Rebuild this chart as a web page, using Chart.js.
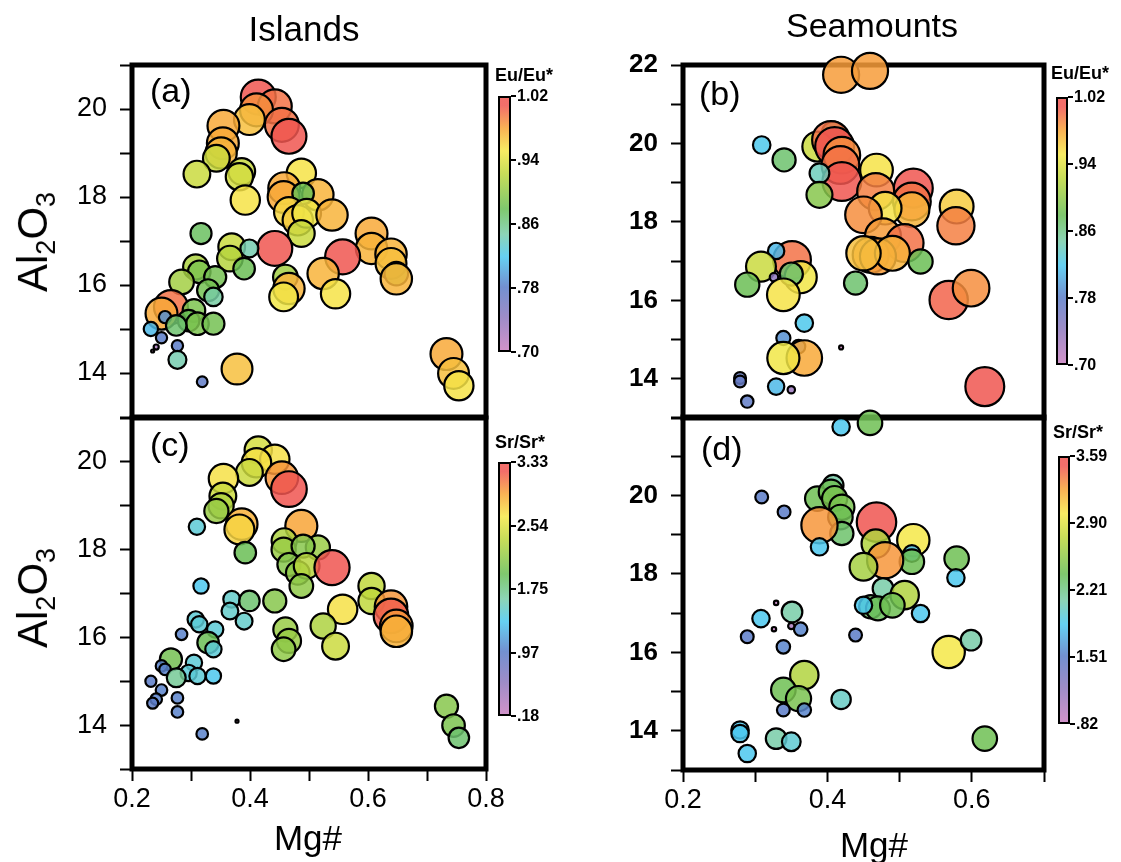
<!DOCTYPE html>
<html>
<head>
<meta charset="utf-8">
<script src="https://cdn.jsdelivr.net/npm/chart.js@4.4.1/dist/chart.umd.min.js"></script>
<style>
  body { margin: 0; width: 1121px; height: 862px; position: relative; background: #fff; overflow: hidden;
         font-family: "Liberation Sans", Arial, sans-serif; color: #000; }
  canvas { position: absolute; left: 0; top: 0; }
  .txt { position: absolute; white-space: nowrap; line-height: 1; }
  .bar { position: absolute; border: 2px solid #000; box-sizing: border-box; }
  .dash { position: absolute; width: 5px; height: 2px; background: #000; }
  .cbl { position: absolute; font-weight: bold; font-size: 16px; line-height: 1; }
</style>
</head>
<body>
<canvas id="pa" width="1121" height="862"></canvas>
<canvas id="pc" width="1121" height="862"></canvas>
<canvas id="pb" width="1121" height="862"></canvas>
<canvas id="pd" width="1121" height="862"></canvas>

<script>
// ---- data ----
// Islands (panels a and c share the sample positions)
const islandMg = [0.414, 0.442, 0.411, 0.399, 0.454, 0.466, 0.355, 0.354, 0.351, 0.343,
                  0.310, 0.386, 0.382, 0.392, 0.487, 0.458, 0.457, 0.515, 0.490, 0.466,
                  0.481, 0.496, 0.487, 0.539, 0.606, 0.606, 0.639, 0.639, 0.648, 0.648,
                  0.442, 0.557, 0.524, 0.545, 0.460, 0.466, 0.457, 0.317, 0.369, 0.399,
                  0.366, 0.390, 0.308, 0.314, 0.341, 0.284, 0.329, 0.338, 0.266, 0.250,
                  0.305, 0.296, 0.311, 0.338, 0.256, 0.275, 0.232, 0.250, 0.241, 0.235,
                  0.277, 0.277, 0.319, 0.378, 0.733, 0.745, 0.754];
const islandAl = [20.27, 20.06, 19.98, 19.76, 19.64, 19.38, 19.62, 19.22, 19.00, 18.88,
                  18.52, 18.58, 18.46, 17.93, 18.54, 18.20, 18.00, 18.05, 18.08, 17.66,
                  17.47, 17.63, 17.17, 17.59, 17.17, 16.83, 16.70, 16.49, 16.26, 16.14,
                  16.83, 16.64, 16.26, 15.80, 16.18, 15.92, 15.73, 17.17, 16.87, 16.83,
                  16.60, 16.37, 16.41, 16.30, 16.18, 16.07, 15.88, 15.73, 15.50, 15.35,
                  15.42, 15.19, 15.12, 15.12, 15.27, 15.08, 15.00, 14.80, 14.59, 14.50,
                  14.62, 14.30, 13.80, 14.09, 14.43, 13.99, 13.71];
const islandEu = [1.01, 1.00, 0.99, 0.97, 1.00, 1.01, 0.98, 0.98, 0.975, 0.93,
                  0.93, 0.93, 0.935, 0.955, 0.955, 0.98, 0.98, 0.975, 0.88, 0.96,
                  0.965, 0.95, 0.93, 0.975, 0.98, 0.975, 0.975, 0.97, 0.90, 0.975,
                  1.01, 1.01, 0.975, 0.955, 0.91, 0.975, 0.95, 0.875, 0.93, 0.845,
                  0.92, 0.88, 0.915, 0.89, 0.885, 0.91, 0.885, 0.85, 1.00, 0.98,
                  0.89, 0.88, 0.89, 0.885, 0.79, 0.87, 0.81, 0.78, 0.72, 0.70,
                  0.78, 0.845, 0.775, 0.97, 0.98, 0.97, 0.955];
const islandSr = [2.5, 2.7, 2.7, 2.45, 3.0, 3.3, 2.7, 2.45, 2.3, 2.2,
                  1.45, 2.9, 2.75, 1.95, 2.95, 2.3, 2.2, 2.2, 2.1, 2.1,
                  2.15, 2.35, 2.15, 3.25, 2.4, 2.4, 3.0, 3.2, 3.0, 2.9,
                  2.1, 2.7, 2.3, 2.45, 2.2, 2.2, 2.15, 1.35, 1.5, 1.85,
                  1.5, 1.5, 1.45, 1.45, 1.45, 1.0, 1.95, 1.45, 2.0, 1.0,
                  1.45, 1.45, 1.45, 1.35, 1.0, 1.7, 0.95, 1.0, 1.0, 0.95,
                  1.0, 1.0, 1.0, 0.15, 2.1, 2.05, 1.85];

// Seamounts (panels b and d share the sample positions)
const seamountMg = [0.419, 0.459, 0.309, 0.340, 0.408, 0.386, 0.405, 0.410, 0.420, 0.418,
                    0.420, 0.389, 0.389, 0.468, 0.467, 0.519, 0.517, 0.517, 0.480, 0.450,
                    0.579, 0.578, 0.477, 0.507, 0.460, 0.470, 0.490, 0.450, 0.529, 0.439,
                    0.351, 0.329, 0.308, 0.289, 0.363, 0.350, 0.326, 0.339, 0.368, 0.339,
                    0.360, 0.368, 0.339, 0.419, 0.279, 0.279, 0.329, 0.350, 0.289, 0.618,
                    0.568, 0.599];
const seamountAl = [21.75, 21.85, 19.96, 19.58, 20.26, 19.92, 20.09, 19.92, 19.70, 19.45,
                    19.03, 19.24, 18.69, 19.32, 18.77, 18.86, 18.52, 18.31, 18.35, 18.18,
                    18.39, 17.90, 17.63, 17.46, 17.16, 17.12, 17.20, 17.20, 16.99, 16.44,
                    17.03, 17.26, 16.86, 16.40, 16.59, 16.67, 16.59, 16.14, 15.42, 15.04,
                    14.82, 14.53, 14.53, 14.80, 14.02, 13.93, 13.80, 13.72, 13.42, 13.80,
                    16.01, 16.31];
const seamountEu = [0.985, 0.985, 0.82, 0.87, 0.87, 0.93, 1.00, 1.01, 0.99, 1.00,
                    1.01, 0.84, 0.895, 0.955, 0.995, 1.01, 1.00, 0.975, 0.955, 0.99,
                    0.965, 0.995, 0.985, 1.00, 0.985, 0.985, 0.975, 0.97, 0.88, 0.87,
                    1.00, 0.81, 0.93, 0.88, 0.95, 0.87, 0.74, 0.955, 0.82, 0.79,
                    0.785, 0.98, 0.95, 0.69, 0.77, 0.77, 0.81, 0.73, 0.775, 1.01,
                    1.005, 0.99];
const seamountSr = [1.85, 2.4, 1.5, 1.5, 2.1, 2.4, 2.4, 2.45, 2.45, 2.4,
                    2.3, 3.3, 1.85, 3.55, 2.7, 3.0, 1.8, 2.4, 3.3, 2.65,
                    2.4, 1.85, 2.1, 2.7, 2.3, 2.35, 2.4, 1.85, 1.85, 1.5,
                    2.1, 0.85, 1.85, 1.5, 1.55, 1.0, 0.85, 1.55, 2.7, 2.4,
                    2.45, 1.55, 1.5, 2.0, 1.85, 1.85, 2.1, 1.95, 1.85, 2.4,
                    3.0, 2.1];

// colour bar ranges and tick labels
const euRange = [0.70, 1.02];
const srIslandRange = [0.18, 3.33];
const srSeamountRange = [0.82, 3.59];
const euTicks = ['1.02', '.94', '.86', '.78', '.70'];
const srIslandTicks = ['3.33', '2.54', '1.75', '.97', '.18'];
const srSeamountTicks = ['3.59', '2.90', '2.21', '1.51', '.82'];

// ---- colour scale ----
const cmap = [
  [0.00, [200, 128, 192]],
  [0.13, [140, 120, 190]],
  [0.25, [90, 125, 200]],
  [0.37, [75, 200, 240]],
  [0.46, [120, 205, 170]],
  [0.56, [105, 190, 85]],
  [0.70, [190, 215, 60]],
  [0.79, [246, 232, 72]],
  [0.88, [248, 165, 55]],
  [0.97, [240, 85, 80]],
  [1.00, [240, 85, 80]]
];

function colour(t, alpha) {
  t = Math.max(0, Math.min(1, t));
  for (let i = 1; i < cmap.length; i++) {
    if (t <= cmap[i][0]) {
      const [t0, c0] = cmap[i - 1];
      const [t1, c1] = cmap[i];
      const f = (t - t0) / (t1 - t0);
      const c = c0.map((v, k) => Math.round(v + (c1[k] - v) * f));
      return `rgba(${c[0]},${c[1]},${c[2]},${alpha})`;
    }
  }
  return 'rgba(240,85,80,' + alpha + ')';
}

// draws the thick box round the plot area
const framePlugin = {
  id: 'frame',
  beforeDatasetsDraw(chart) {
    const { ctx, chartArea: a } = chart;
    ctx.save();
    ctx.lineWidth = 5;
    ctx.strokeStyle = '#000';
    ctx.strokeRect(a.left, a.top, a.right - a.left, a.bottom - a.top);
    ctx.restore();
  }
};

Chart.defaults.font.family = '"Liberation Sans", Arial, sans-serif';
Chart.defaults.color = '#000';

// Function to create one panel
function createPanel(id, mg, al, val, range, opt) {
  const t = val.map(v => (v - range[0]) / (range[1] - range[0]));
  const points = mg.map((x, i) => ({
    x: x,
    y: al[i],
    r: Math.max(opt.rMin, opt.rMin + opt.rSpan * Math.min(1, t[i]))
  }));
  const colours = t.map(v => colour(v, 0.85));

  const xScale = {
    type: 'linear',
    min: 0.2,
    max: opt.xMax,
    display: opt.showX,
    border: { display: false },
    grid: { drawOnChartArea: false, tickLength: 12, tickWidth: 2, tickColor: '#000' },
    ticks: {
      stepSize: 0.1,
      autoSkip: false,
      maxRotation: 0,
      padding: 2,
      font: { size: 27 },
      callback: v => {
        const k = Math.round(v * 10);
        return k % 2 === 0 ? (k / 10).toFixed(1) : '';
      }
    }
  };
  // only the bottom panels keep a visible x axis of fixed height
  if (opt.showX) xScale.afterFit = s => { s.height = 60; };

  new Chart(document.getElementById(id).getContext('2d'), {
    type: 'bubble',
    data: {
      datasets: [{
        data: points,
        backgroundColor: colours,
        borderColor: '#000',
        borderWidth: 2.2,
        clip: false
      }]
    },
    options: {
      responsive: false,
      animation: false,
      events: [],
      layout: { padding: opt.padding },
      plugins: { legend: { display: false }, tooltip: { enabled: false } },
      scales: {
        x: xScale,
        y: {
          type: 'linear',
          min: 13,
          max: opt.yMax,
          afterFit: s => { s.width = 60; },
          border: { display: false },
          grid: { drawOnChartArea: false, tickLength: 12, tickWidth: 2, tickColor: '#000' },
          ticks: {
            stepSize: 1,
            autoSkip: false,
            padding: 13,
            font: opt.yFont,
            callback: v => opt.yLabels.includes(v) ? String(v) : ''
          }
        }
      }
    },
    plugins: [framePlugin]
  });
}

const W = 1121, H = 862;
const regular = { size: 27 };
const bold = { size: 26, weight: 'bold' };

// (a) islands, Eu/Eu*
createPanel('pa', islandMg, islandAl, islandEu, euRange, {
  rMin: 1.5, rSpan: 16.5, xMax: 0.8, yMax: 21, showX: false, yFont: regular,
  yLabels: [14, 16, 18, 20],
  padding: { left: 132 - 60, right: W - 486, top: 65, bottom: H - 417 }
});
// (c) islands, Sr/Sr*
createPanel('pc', islandMg, islandAl, islandSr, srIslandRange, {
  rMin: 1.5, rSpan: 16.5, xMax: 0.8, yMax: 21, showX: true, yFont: regular,
  yLabels: [14, 16, 18, 20],
  padding: { left: 132 - 60, right: W - 486, top: 418, bottom: H - 769 - 60 }
});
// (b) seamounts, Eu/Eu*
createPanel('pb', seamountMg, seamountAl, seamountEu, euRange, {
  rMin: 2, rSpan: 18, xMax: 0.7, yMax: 22, showX: false, yFont: bold,
  yLabels: [14, 16, 18, 20, 22],
  padding: { left: 683 - 60, right: W - 1044, top: 65, bottom: H - 418 }
});
// (d) seamounts, Sr/Sr*
createPanel('pd', seamountMg, seamountAl, seamountSr, srSeamountRange, {
  rMin: 2, rSpan: 18, xMax: 0.7, yMax: 22, showX: true, yFont: bold,
  yLabels: [14, 16, 18, 20],
  padding: { left: 683 - 60, right: W - 1044, top: 417, bottom: H - 770 - 60 }
});

// ---- text and colour bars ----
function addText(html, left, top, css) {
  const d = document.createElement('div');
  d.className = 'txt';
  d.innerHTML = html;
  d.style.left = left + 'px';
  d.style.top = top + 'px';
  Object.assign(d.style, css || {});
  document.body.appendChild(d);
  return d;
}

function colourBar(left, top, width, height, title, titleLeft, titleTop, labels) {
  const stops = cmap.map(s => colour(s[0], 0.85) + ' ' + (s[0] * 100).toFixed(0) + '%').join(',');
  const bar = document.createElement('div');
  bar.className = 'bar';
  Object.assign(bar.style, {
    left: left + 'px', top: top + 'px', width: width + 'px', height: height + 'px',
    background: `linear-gradient(to top, ${stops})`
  });
  document.body.appendChild(bar);
  addText(title, titleLeft, titleTop, { fontWeight: 'bold', fontSize: '18px' });
  labels.forEach((lab, i) => {
    const y = top + i * (height / (labels.length - 1));
    const dash = document.createElement('div');
    dash.className = 'dash';
    dash.style.left = (left + width) + 'px';
    dash.style.top = (y - 1) + 'px';
    document.body.appendChild(dash);
    const l = document.createElement('div');
    l.className = 'cbl';
    l.textContent = lab;
    l.style.left = (left + width + 6) + 'px';
    l.style.top = (y - 8) + 'px';
    document.body.appendChild(l);
  });
}

colourBar(498, 96, 13, 256, 'Eu/Eu*', 495, 66, euTicks);
colourBar(498, 462, 13, 254, 'Sr/Sr*', 495, 433, srIslandTicks);
colourBar(1056, 97, 12, 268, 'Eu/Eu*', 1051, 64, euTicks);
colourBar(1058, 456, 12, 268, 'Sr/Sr*', 1053, 423, srSeamountTicks);

// titles
addText('Islands', 304, 10.5, { fontSize: '35px', transform: 'translateX(-50%)' });
addText('Seamounts', 872, 8, { fontSize: '34px', transform: 'translateX(-50%)' });

// panel letters
addText('(a)', 150, 73, { fontSize: '34px' });
addText('(c)', 150, 427, { fontSize: '34px' });
addText('(b)', 699, 76, { fontSize: '34px' });
addText('(d)', 701, 431, { fontSize: '34px' });

// axis titles
addText('Mg#', 308, 820, { fontSize: '35px', transform: 'translateX(-50%)' });
addText('Mg#', 874, 827, { fontSize: '35px', transform: 'translateX(-50%)' });
const alLabel = 'Al<sub style="font-size:27px;vertical-align:-0.3em">2</sub>O<sub style="font-size:27px;vertical-align:-0.3em">3</sub>';
addText(alLabel, 36, 242, { fontSize: '42px', transform: 'translate(-50%,-50%) rotate(-90deg)' });
addText(alLabel, 36, 598, { fontSize: '42px', transform: 'translate(-50%,-50%) rotate(-90deg)' });
</script>
</body>
</html>
